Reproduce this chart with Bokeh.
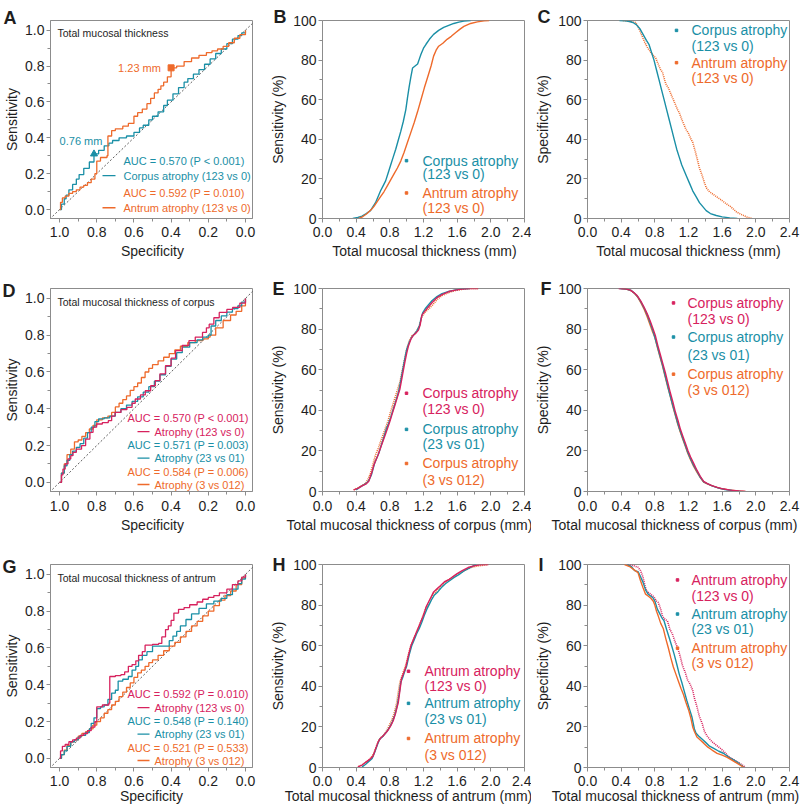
from bokeh.plotting import figure
from bokeh.models import Range1d, FixedTicker, PrintfTickFormatter, Label
from bokeh.layouts import row, column
from bokeh.embed import file_html
from bokeh.resources import INLINE

FONT = "Liberation Sans"
TEAL = "#1a8fa6"
ORANGE = "#ee6a2b"
CRIMSON = "#d7225e"
GRAY = "#8c8c8c"
INK = "#1e1e1e"

# ---------------- ticks ----------------
roc_ticks = [0.0, 0.2, 0.4, 0.6, 0.8, 1.0]
roc_minor = [0.1, 0.3, 0.5, 0.7, 0.9]
mm_ticks = [0.0, 0.4, 0.8, 1.2, 1.6, 2.0, 2.4]
mm_minor = [0.2, 0.6, 1.0, 1.4, 1.8, 2.2]
pct_ticks = [0, 20, 40, 60, 80, 100]
pct_minor = [10, 30, 50, 70, 90]
chance_spec = [1.1, -0.1]
chance_sens = [-0.1, 1.1]

# ---------------- A: ROC, total mucosal thickness ----------------
a_corpus_spec = [1.0, 0.99, 0.975, 0.965, 0.95, 0.93, 0.91, 0.895, 0.87, 0.84, 0.815, 0.79, 0.76, 0.735, 0.715, 0.68, 0.64, 0.6, 0.57, 0.55, 0.52, 0.5, 0.47, 0.44, 0.42, 0.39, 0.36, 0.33, 0.31, 0.28, 0.25, 0.22, 0.19, 0.16, 0.13, 0.1, 0.07, 0.04, 0.02, 0.0]
a_corpus_sens = [0.0, 0.03, 0.06, 0.08, 0.11, 0.14, 0.17, 0.195, 0.23, 0.265, 0.31, 0.33, 0.355, 0.37, 0.385, 0.40, 0.41, 0.43, 0.455, 0.47, 0.50, 0.52, 0.545, 0.58, 0.61, 0.645, 0.68, 0.71, 0.73, 0.755, 0.78, 0.81, 0.84, 0.87, 0.895, 0.925, 0.95, 0.97, 0.985, 1.0]
a_antrum_spec = [1.0, 0.995, 0.985, 0.97, 0.95, 0.93, 0.91, 0.89, 0.87, 0.85, 0.83, 0.81, 0.80, 0.78, 0.745, 0.74, 0.72, 0.70, 0.66, 0.63, 0.60, 0.58, 0.555, 0.53, 0.51, 0.49, 0.47, 0.455, 0.44, 0.42, 0.40, 0.37, 0.33, 0.29, 0.25, 0.21, 0.18, 0.15, 0.12, 0.09, 0.06, 0.03, 0.0]
a_antrum_sens = [0.0, 0.04, 0.065, 0.075, 0.09, 0.10, 0.11, 0.125, 0.135, 0.15, 0.17, 0.20, 0.27, 0.29, 0.30, 0.41, 0.44, 0.45, 0.465, 0.48, 0.52, 0.54, 0.56, 0.59, 0.62, 0.65, 0.67, 0.69, 0.71, 0.74, 0.79, 0.80, 0.825, 0.845, 0.86, 0.875, 0.885, 0.895, 0.91, 0.93, 0.955, 0.975, 1.0]
cut_corpus = dict(spec=[0.815], sens=[0.31], text="0.76 mm")
cut_antrum = dict(spec=[0.40], sens=[0.79], text="1.23 mm")
a_auc = ["AUC = 0.570 (P < 0.001)", "AUC = 0.592 (P = 0.010)"]
a_names = ["Corpus atrophy (123 vs 0)", "Antrum atrophy (123 vs 0)"]

# ---------------- B / C: total mucosal thickness ----------------
b_corpus_x = [0.36, 0.42, 0.47, 0.52, 0.57, 0.60, 0.63, 0.66, 0.69, 0.72, 0.75, 0.78, 0.81, 0.84, 0.87, 0.90, 0.93, 0.96, 0.99, 1.01, 1.03, 1.05, 1.07, 1.10, 1.13, 1.15, 1.17, 1.20, 1.23, 1.27, 1.32, 1.38, 1.44, 1.50, 1.56, 1.62, 1.68, 1.76]
b_corpus_y = [0, 0.5, 1.2, 2.5, 4, 6, 8, 11, 14, 16.5, 19, 23, 27, 31, 35, 39.5, 44, 49, 55, 61, 66.6, 71.5, 76, 77, 78, 80.5, 83, 86, 88, 90.5, 93, 95, 96.5, 97.5, 98.5, 99.2, 99.7, 100]
b_antrum_x = [0.43, 0.48, 0.53, 0.58, 0.61, 0.65, 0.69, 0.73, 0.77, 0.81, 0.85, 0.89, 0.93, 0.97, 1.01, 1.05, 1.09, 1.13, 1.17, 1.21, 1.25, 1.29, 1.32, 1.35, 1.38, 1.43, 1.48, 1.53, 1.58, 1.63, 1.68, 1.76, 1.84, 1.92, 1.98]
b_antrum_y = [0, 1, 2.5, 4.5, 6, 8.5, 11, 13.5, 16.5, 19.5, 22.5, 25.5, 29, 33.5, 38.5, 43.5, 48.5, 54, 60, 66, 71.5, 77, 82, 85, 87, 88.5, 90.5, 92, 93.8, 95.5, 97, 98.5, 99.3, 99.8, 100]
c_corpus_x = [0.38, 0.45, 0.50, 0.54, 0.58, 0.62, 0.66, 0.70, 0.73, 0.76, 0.79, 0.82, 0.85, 0.88, 0.91, 0.94, 0.97, 1.00, 1.03, 1.06, 1.09, 1.12, 1.15, 1.18, 1.21, 1.25, 1.29, 1.33, 1.37, 1.41, 1.46, 1.53, 1.60, 1.69, 1.78]
c_corpus_y = [100, 99.8, 99.5, 99, 97.9, 96, 93, 90, 88, 84, 80, 75, 70, 65, 60, 55, 50, 45, 40, 35, 31, 27, 24, 21, 18, 14, 11, 8, 6, 4, 2.5, 1.5, 0.8, 0.3, 0]
c_antrum_x = [0.42, 0.50, 0.57, 0.60, 0.62, 0.65, 0.68, 0.71, 0.75, 0.79, 0.81, 0.84, 0.87, 0.89, 0.91, 0.93, 0.96, 0.99, 1.01, 1.04, 1.07, 1.09, 1.12, 1.15, 1.17, 1.20, 1.23, 1.25, 1.28, 1.31, 1.33, 1.36, 1.39, 1.41, 1.45, 1.50, 1.55, 1.60, 1.65, 1.70, 1.77, 1.83, 1.89, 1.96]
c_antrum_y = [100, 99.5, 99, 97, 95, 92, 89, 86.5, 84, 82, 81, 78, 75, 74, 71, 68, 66, 63, 61, 58, 55, 53.5, 50, 47, 45, 43, 40, 38.5, 34, 29, 25.5, 22, 18, 15.6, 13.5, 12, 10.5, 9, 7.4, 6, 3.3, 2, 0.8, 0]

# ---------------- D: ROC, corpus thickness ----------------
d_123_spec = [1.0, 0.99, 0.982, 0.97, 0.955, 0.94, 0.928, 0.91, 0.882, 0.86, 0.837, 0.82, 0.801, 0.77, 0.738, 0.72, 0.702, 0.67, 0.638, 0.61, 0.593, 0.565, 0.539, 0.51, 0.485, 0.46, 0.43, 0.40, 0.376, 0.34, 0.304, 0.27, 0.231, 0.21, 0.195, 0.17, 0.141, 0.10, 0.069, 0.03, 0.0]
d_123_sens = [0.0, 0.04, 0.072, 0.10, 0.127, 0.145, 0.163, 0.18, 0.20, 0.235, 0.272, 0.30, 0.317, 0.325, 0.335, 0.36, 0.38, 0.395, 0.408, 0.43, 0.453, 0.475, 0.498, 0.525, 0.553, 0.59, 0.634, 0.675, 0.716, 0.745, 0.77, 0.79, 0.815, 0.84, 0.86, 0.895, 0.924, 0.94, 0.951, 0.975, 1.0]
d_23_spec = [1.0, 0.99, 0.975, 0.96, 0.945, 0.93, 0.91, 0.89, 0.87, 0.85, 0.83, 0.81, 0.79, 0.76, 0.73, 0.70, 0.67, 0.64, 0.61, 0.58, 0.55, 0.52, 0.49, 0.46, 0.43, 0.40, 0.37, 0.34, 0.30, 0.26, 0.23, 0.20, 0.185, 0.16, 0.13, 0.10, 0.07, 0.04, 0.02, 0.0]
d_23_sens = [0.0, 0.05, 0.09, 0.12, 0.15, 0.17, 0.19, 0.21, 0.24, 0.27, 0.30, 0.33, 0.345, 0.35, 0.36, 0.38, 0.40, 0.42, 0.44, 0.465, 0.49, 0.52, 0.55, 0.585, 0.63, 0.67, 0.705, 0.735, 0.76, 0.775, 0.79, 0.80, 0.85, 0.88, 0.905, 0.925, 0.945, 0.96, 0.98, 1.0]
d_3_spec = [1.0, 0.99, 0.975, 0.96, 0.94, 0.92, 0.90, 0.88, 0.86, 0.84, 0.82, 0.80, 0.77, 0.74, 0.72, 0.70, 0.68, 0.66, 0.64, 0.62, 0.60, 0.58, 0.56, 0.54, 0.52, 0.50, 0.47, 0.44, 0.41, 0.38, 0.35, 0.31, 0.27, 0.23, 0.20, 0.19, 0.16, 0.12, 0.08, 0.05, 0.02, 0.0]
d_3_sens = [0.0, 0.05, 0.10, 0.15, 0.18, 0.22, 0.23, 0.25, 0.27, 0.29, 0.31, 0.34, 0.35, 0.36, 0.38, 0.41, 0.43, 0.45, 0.47, 0.50, 0.52, 0.54, 0.57, 0.60, 0.62, 0.64, 0.66, 0.68, 0.70, 0.72, 0.74, 0.76, 0.77, 0.78, 0.79, 0.80, 0.84, 0.88, 0.91, 0.93, 0.96, 1.0]
d_auc = ["AUC = 0.570 (P < 0.001)", "AUC = 0.571 (P = 0.003)", "AUC = 0.584 (P = 0.006)"]
d_names = ["Atrophy (123 vs 0)", "Atrophy (23 vs 01)", "Atrophy (3 vs 012)"]

# ---------------- E / F: corpus thickness ----------------
e_123_x = [0.37, 0.42, 0.47, 0.52, 0.55, 0.57, 0.59, 0.61, 0.63, 0.66, 0.69, 0.72, 0.75, 0.78, 0.80, 0.83, 0.86, 0.89, 0.92, 0.94, 0.96, 0.98, 1.00, 1.02, 1.05, 1.08, 1.11, 1.14, 1.16, 1.18, 1.21, 1.25, 1.30, 1.36, 1.42, 1.50, 1.58, 1.66, 1.75, 1.85]
e_123_y = [0.8, 1.5, 2.8, 3.8, 5, 7.5, 10, 13, 15, 18, 21.5, 25, 28.5, 32, 34.5, 38.5, 42.5, 46.5, 50.5, 55, 59.5, 64, 68, 71.5, 75, 77, 78, 79.5, 82, 86.8, 88.5, 90.5, 93, 95.5, 97, 98.5, 99.2, 99.7, 100, 100]
e_23_x = [0.40, 0.44, 0.48, 0.52, 0.55, 0.58, 0.60, 0.62, 0.64, 0.67, 0.70, 0.73, 0.76, 0.78, 0.81, 0.84, 0.87, 0.90, 0.92, 0.94, 0.96, 0.98, 1.00, 1.03, 1.06, 1.09, 1.12, 1.15, 1.17, 1.19, 1.22, 1.26, 1.30, 1.36, 1.42, 1.50, 1.58, 1.66, 1.75]
e_23_y = [0.8, 2, 3, 4, 5.5, 8, 11, 14, 16, 19, 23, 27, 31, 33, 36.5, 40.5, 44.5, 48.5, 52.5, 57, 61.5, 66, 70, 73.5, 76, 77.5, 79, 81.5, 85, 88, 90, 92, 94, 96, 97.5, 98.5, 99.3, 99.8, 100]
e_3_x = [0.37, 0.42, 0.47, 0.51, 0.54, 0.57, 0.59, 0.61, 0.63, 0.66, 0.69, 0.72, 0.75, 0.78, 0.80, 0.83, 0.86, 0.89, 0.92, 0.94, 0.96, 0.98, 1.00, 1.03, 1.06, 1.09, 1.12, 1.15, 1.18, 1.21, 1.25, 1.30, 1.36, 1.42, 1.50, 1.58, 1.66, 1.75, 1.85]
e_3_y = [0.8, 1.8, 3, 4, 6, 9, 12, 15, 18, 21, 24.5, 28, 31.5, 35, 38, 42, 46, 50, 54, 58, 62, 66, 70, 74, 76.5, 77.5, 79, 81.5, 86, 88, 89.5, 91.5, 94.5, 96.5, 98, 99, 99.6, 100, 100]
f_123_x = [0.37, 0.45, 0.51, 0.55, 0.59, 0.63, 0.67, 0.71, 0.745, 0.775, 0.805, 0.835, 0.865, 0.895, 0.925, 0.955, 0.985, 1.015, 1.045, 1.075, 1.105, 1.135, 1.165, 1.195, 1.225, 1.26, 1.30, 1.34, 1.38, 1.42, 1.47, 1.54, 1.62, 1.70, 1.80, 1.88]
f_123_y = [100, 99.8, 99.2, 98, 96.5, 94, 91, 87.5, 84, 80.5, 77, 72, 67.5, 63, 58.5, 53.5, 48.5, 44, 39, 35, 30.5, 27, 23.5, 20, 17, 14, 10.5, 7.5, 5, 4, 3, 2, 1.2, 0.7, 0.3, 0]
f_23_x = [0.38, 0.46, 0.52, 0.56, 0.60, 0.64, 0.68, 0.715, 0.745, 0.775, 0.80, 0.83, 0.86, 0.89, 0.92, 0.95, 0.98, 1.01, 1.04, 1.07, 1.10, 1.13, 1.16, 1.19, 1.22, 1.26, 1.30, 1.34, 1.38, 1.43, 1.48, 1.55, 1.63, 1.72, 1.82]
f_23_y = [100, 99.7, 99, 97.6, 95.8, 93, 89.8, 86.5, 83, 79.5, 76, 71.5, 67, 62.5, 57.5, 52.5, 47.5, 43, 38.5, 34, 30, 26.5, 23, 19.5, 16.5, 13, 10, 7, 4.8, 3.8, 2.8, 1.8, 1, 0.5, 0]
f_3_x = [0.40, 0.47, 0.52, 0.56, 0.60, 0.64, 0.675, 0.71, 0.74, 0.77, 0.80, 0.83, 0.86, 0.89, 0.92, 0.95, 0.98, 1.01, 1.04, 1.07, 1.10, 1.13, 1.16, 1.19, 1.22, 1.26, 1.30, 1.34, 1.38, 1.43, 1.50, 1.58, 1.68, 1.78, 1.87]
f_3_y = [100, 99.6, 98.9, 97.5, 95.5, 92.5, 89.5, 86, 82.5, 79, 76, 71, 66.5, 62, 57, 52, 47.5, 42.5, 38, 33.5, 29.5, 26, 22.5, 19, 16, 12.5, 9.5, 6.8, 4.6, 3.6, 2.5, 1.5, 0.8, 0.3, 0]

# ---------------- G: ROC, antrum thickness ----------------
g_123_spec = [1.0, 0.995, 0.985, 0.97, 0.95, 0.93, 0.91, 0.89, 0.87, 0.85, 0.83, 0.81, 0.80, 0.77, 0.735, 0.73, 0.70, 0.67, 0.65, 0.63, 0.61, 0.59, 0.575, 0.555, 0.54, 0.50, 0.467, 0.45, 0.43, 0.415, 0.40, 0.385, 0.36, 0.33, 0.30, 0.26, 0.23, 0.20, 0.17, 0.14, 0.10, 0.07, 0.04, 0.02, 0.0]
g_123_sens = [0.0, 0.04, 0.065, 0.075, 0.09, 0.10, 0.11, 0.125, 0.135, 0.15, 0.17, 0.20, 0.28, 0.29, 0.30, 0.445, 0.45, 0.455, 0.47, 0.50, 0.51, 0.53, 0.56, 0.58, 0.615, 0.62, 0.625, 0.66, 0.70, 0.72, 0.75, 0.79, 0.81, 0.82, 0.835, 0.85, 0.865, 0.875, 0.885, 0.90, 0.92, 0.945, 0.965, 0.985, 1.0]
g_23_spec = [1.0, 0.99, 0.975, 0.96, 0.94, 0.92, 0.90, 0.885, 0.86, 0.84, 0.83, 0.815, 0.80, 0.78, 0.76, 0.74, 0.72, 0.70, 0.685, 0.66, 0.63, 0.61, 0.59, 0.575, 0.555, 0.53, 0.50, 0.43, 0.41, 0.39, 0.37, 0.35, 0.32, 0.29, 0.25, 0.21, 0.17, 0.13, 0.10, 0.07, 0.04, 0.02, 0.0]
g_23_sens = [0.0, 0.02, 0.04, 0.065, 0.09, 0.10, 0.115, 0.125, 0.14, 0.16, 0.19, 0.22, 0.27, 0.28, 0.29, 0.32, 0.355, 0.37, 0.42, 0.43, 0.445, 0.48, 0.50, 0.535, 0.56, 0.58, 0.61, 0.61, 0.64, 0.665, 0.69, 0.72, 0.755, 0.785, 0.815, 0.84, 0.855, 0.87, 0.89, 0.92, 0.95, 0.975, 1.0]
g_3_spec = [1.0, 0.99, 0.975, 0.96, 0.94, 0.92, 0.90, 0.88, 0.86, 0.84, 0.82, 0.80, 0.78, 0.76, 0.74, 0.72, 0.70, 0.68, 0.66, 0.64, 0.62, 0.60, 0.58, 0.56, 0.54, 0.52, 0.50, 0.47, 0.44, 0.41, 0.38, 0.35, 0.32, 0.29, 0.26, 0.23, 0.20, 0.17, 0.14, 0.11, 0.08, 0.05, 0.02, 0.0]
g_3_sens = [0.0, 0.02, 0.045, 0.07, 0.09, 0.10, 0.12, 0.135, 0.145, 0.16, 0.18, 0.20, 0.22, 0.245, 0.265, 0.29, 0.31, 0.335, 0.36, 0.385, 0.41, 0.44, 0.465, 0.48, 0.50, 0.52, 0.535, 0.56, 0.585, 0.61, 0.63, 0.66, 0.69, 0.72, 0.745, 0.775, 0.80, 0.83, 0.86, 0.885, 0.91, 0.945, 0.98, 1.0]
g_auc = ["AUC = 0.592 (P = 0.010)", "AUC = 0.548 (P = 0.140)", "AUC = 0.521 (P = 0.533)"]
g_names = ["Atrophy (123 vs 0)", "Atrophy (23 vs 01)", "Atrophy (3 vs 012)"]

# ---------------- H / I: antrum thickness ----------------
h_123_x = [0.42, 0.47, 0.52, 0.56, 0.60, 0.63, 0.66, 0.69, 0.72, 0.75, 0.78, 0.81, 0.84, 0.87, 0.90, 0.92, 0.94, 0.96, 0.99, 1.02, 1.05, 1.08, 1.11, 1.14, 1.17, 1.20, 1.23, 1.26, 1.29, 1.32, 1.36, 1.40, 1.45, 1.50, 1.55, 1.60, 1.66, 1.73, 1.80, 1.87, 1.97]
h_123_y = [0.3, 1.2, 2.8, 4, 5.5, 9, 12.5, 14.5, 15.5, 17, 18.5, 20.5, 23, 27, 32, 38, 44, 46, 49.5, 55, 60, 63, 66, 69, 72, 75, 79, 81.5, 84, 86.5, 88, 89.5, 91.5, 92.5, 94, 95.5, 97, 98.5, 99.3, 99.8, 100]
h_23_x = [0.47, 0.51, 0.55, 0.59, 0.62, 0.65, 0.68, 0.71, 0.74, 0.77, 0.80, 0.83, 0.86, 0.89, 0.91, 0.93, 0.95, 0.97, 1.00, 1.03, 1.06, 1.09, 1.12, 1.15, 1.18, 1.21, 1.24, 1.27, 1.30, 1.33, 1.37, 1.41, 1.46, 1.51, 1.56, 1.62, 1.68, 1.75, 1.82]
h_23_y = [0.3, 1.5, 3, 4.5, 7.5, 11, 14, 15, 16.5, 18, 20, 22.5, 26, 31, 36, 42, 44, 46.5, 50, 55.5, 60, 63, 66, 68.5, 71.5, 75, 78, 80.5, 83, 85, 86.5, 88.5, 90.5, 92, 93.5, 95, 96.8, 98.3, 100]
h_3_x = [0.43, 0.48, 0.53, 0.57, 0.61, 0.64, 0.67, 0.70, 0.73, 0.76, 0.79, 0.82, 0.85, 0.88, 0.90, 0.92, 0.94, 0.96, 0.99, 1.02, 1.05, 1.08, 1.11, 1.14, 1.17, 1.20, 1.23, 1.26, 1.29, 1.32, 1.36, 1.40, 1.45, 1.50, 1.56, 1.62, 1.69, 1.76, 1.85, 1.97]
h_3_y = [0.5, 1.5, 3, 4.5, 7, 10.5, 13.5, 15, 16, 18, 20.5, 23, 26.5, 31.5, 37, 42, 44.5, 47, 50.5, 55.5, 60, 63, 66, 69, 72, 75.5, 78.5, 81, 83.5, 85.5, 87, 89, 91, 92.5, 94, 95.5, 97, 98.5, 99.3, 100]
i_123_x = [0.48, 0.54, 0.60, 0.63, 0.66, 0.68, 0.70, 0.73, 0.76, 0.79, 0.82, 0.84, 0.87, 0.89, 0.92, 0.95, 0.98, 1.01, 1.04, 1.07, 1.10, 1.13, 1.16, 1.19, 1.22, 1.25, 1.27, 1.30, 1.33, 1.36, 1.39, 1.43, 1.48, 1.53, 1.58, 1.63, 1.68, 1.73, 1.78, 1.83, 1.88]
i_123_y = [100, 99.5, 98.7, 97, 93.7, 90, 87, 86, 85, 84, 82, 81.3, 78, 74.7, 73, 72.2, 68, 65.6, 62, 59, 55, 50, 47, 43, 41, 38, 34.2, 30, 25, 22, 17.7, 15, 12.7, 11, 9.4, 7.5, 5.3, 4, 2.8, 1.5, 0]
i_23_x = [0.47, 0.52, 0.56, 0.60, 0.63, 0.66, 0.69, 0.72, 0.75, 0.78, 0.80, 0.83, 0.85, 0.88, 0.91, 0.94, 0.97, 1.00, 1.03, 1.06, 1.09, 1.12, 1.15, 1.18, 1.21, 1.24, 1.27, 1.29, 1.32, 1.36, 1.40, 1.45, 1.50, 1.56, 1.62, 1.68, 1.74, 1.80, 1.86]
i_23_y = [100, 99, 97, 96.5, 94, 91.2, 87.5, 85.4, 84.5, 83.5, 82, 78, 76.4, 74, 72.2, 68, 64, 60, 55.7, 51, 46, 42, 37.5, 33, 29, 25, 19, 16.9, 15.5, 14, 12.5, 10.5, 9.4, 8, 6.9, 5, 3.6, 2, 0]
i_3_x = [0.44, 0.50, 0.55, 0.60, 0.63, 0.66, 0.69, 0.72, 0.75, 0.78, 0.80, 0.82, 0.84, 0.87, 0.90, 0.93, 0.96, 0.99, 1.02, 1.05, 1.08, 1.11, 1.14, 1.17, 1.20, 1.23, 1.25, 1.27, 1.30, 1.34, 1.38, 1.43, 1.48, 1.54, 1.60, 1.66, 1.72, 1.78, 1.86]
i_3_y = [100, 99, 97.5, 96, 92, 88.5, 85.4, 84.5, 83.5, 82, 80, 77, 74.7, 71, 68.5, 63.5, 59, 54, 49.5, 46, 42.5, 39, 36, 32, 28.5, 24, 20, 17.7, 15, 13.5, 12, 10, 8.6, 7, 6.1, 5, 3.5, 2, 0]

# ---------------- layout ----------------
FW = 202
COLS = [dict(w=266, ml=50, mr=14, yls=2), dict(w=265, ml=56, mr=7, yls=4), dict(w=269, ml=56, mr=11, yls=4)]
ROWS = [dict(h=266, mt=15, mb=48, xs=4), dict(h=276, mt=22, mb=51, xs=5), dict(h=265, mt=22, mb=40, xs=4)]


def make_fig(ci, ri, xr, yr):
    c, r = COLS[ci], ROWS[ri]
    p = figure(width=c["w"], height=r["h"], x_range=xr, y_range=yr,
               min_border_left=c["ml"], min_border_right=c["mr"],
               min_border_top=r["mt"], min_border_bottom=r["mb"],
               output_backend="svg", toolbar_location=None)
    p.outline_line_color = GRAY
    p.outline_line_width = 1
    p.xgrid.visible = False
    p.ygrid.visible = False
    p.background_fill_color = "white"
    p.border_fill_color = "white"
    return p


def style_axes(p, ci, ri, xt, xm, yt, ym, xfmt, yfmt, ylabel):
    p.xaxis.ticker = FixedTicker(ticks=xt, minor_ticks=xm)
    p.yaxis.ticker = FixedTicker(ticks=yt, minor_ticks=ym)
    if xfmt:
        p.xaxis.formatter = PrintfTickFormatter(format=xfmt)
    if yfmt:
        p.yaxis.formatter = PrintfTickFormatter(format=yfmt)
    for ax in list(p.xaxis) + list(p.yaxis):
        ax.axis_line_color = GRAY
        ax.major_tick_line_color = GRAY
        ax.minor_tick_line_color = GRAY
        ax.major_tick_out = 4
        ax.major_tick_in = 0
        ax.minor_tick_out = 3
        ax.minor_tick_in = 0
        ax.major_label_text_font = FONT
        ax.major_label_text_font_size = "14px"
        ax.major_label_text_color = INK
        ax.major_label_standoff = 2
        ax.axis_label_text_font = FONT
        ax.axis_label_text_font_size = "14px"
        ax.axis_label_text_font_style = "normal"
        ax.axis_label_text_color = INK
    p.xaxis.major_label_standoff = ROWS[ri]["xs"]
    p.yaxis.axis_label = ylabel
    p.yaxis.axis_label_standoff = COLS[ci]["yls"]


def mklabel(x, y, text, color=INK, size="14px", style="normal", align="left", baseline="middle",
            xu="screen", yu="data"):
    return Label(x=x, y=y, x_units=xu, y_units=yu, text=text, text_color=color,
                 text_font=FONT, text_font_size=size, text_font_style=style,
                 text_align=align, text_baseline=baseline)


def sx(p, s):
    r = p.x_range
    return r.start + s / FW * (r.end - r.start)


def letter(p, text, dx, dy):
    p.add_layout(mklabel(dx, dy, text, size="18px", style="bold", baseline="alphabetic", yu="screen"), "above")


def xlabel(p, text, cx, dy):
    p.add_layout(mklabel(cx, dy, text, align="center", yu="screen"), "below")


def roc_panel(ci, ri, title, draw, legend_curves, auc, names, lg):
    p = make_fig(ci, ri, Range1d(1.049, -0.038), Range1d(-0.05, 1.054))
    style_axes(p, ci, ri, roc_ticks, roc_minor, roc_ticks, roc_minor, "%.1f", "%.1f", "Sensitivity")
    p.line(chance_spec, chance_sens, line_color="#333333", line_width=0.8, line_dash="2 2")
    for spec, sens, col in draw:
        p.step(spec, sens, mode="after", line_color=col, line_width=1.3)
    p.add_layout(mklabel(7, 0.983, title, size="10.5px"))
    ys = lg["ys"]
    for k, (a, n, col) in enumerate(zip(auc, names, legend_curves)):
        p.add_layout(mklabel(lg["ax"], ys[2 * k], a, color=col, size="11px"))
        p.segment(x0=[sx(p, lg["s0"])], y0=[ys[2 * k + 1]], x1=[sx(p, lg["s1"])],
                  y1=[ys[2 * k + 1]], line_color=col, line_width=1.3)
        p.add_layout(mklabel(lg["tx"], ys[2 * k + 1], n, color=col, size="11px"))
    return p


def cdf_panel(ci, ri, curves, ylabel, names, lg):
    p = make_fig(ci, ri, Range1d(0, 2.4), Range1d(0, 100))
    style_axes(p, ci, ri, mm_ticks, mm_minor, pct_ticks, pct_minor, "%.1f", None, ylabel)
    for x, y, col, dash in curves:
        p.line(x, y, line_color=col, line_width=1.4 if dash is None else 1.6,
               line_dash=dash if dash else "solid")
    ys = lg["ys"]
    for k, (n1, n2) in enumerate(names):
        col = lg["cols"][k]
        p.scatter([sx(p, lg["dx"])], [ys[2 * k]], size=2.5, color=col, marker="square")
        p.add_layout(mklabel(lg["tx"], ys[2 * k], n1, color=col))
        p.add_layout(mklabel(lg["tx"], ys[2 * k + 1], n2, color=col))
    return p


XL_Y = [5, 5, 9]  # x-label offset inside its below-panel slot, per row

# ---- row 1
pA = roc_panel(0, 0, "Total mucosal thickness",
               [(a_corpus_spec, a_corpus_sens, TEAL), (a_antrum_spec, a_antrum_sens, ORANGE)],
               [TEAL, ORANGE], a_auc, a_names,
               dict(ax=73, s0=52, s1=65, tx=73, ys=[0.271, 0.189, 0.091, 0.010]))
pA.scatter(cut_corpus["spec"], cut_corpus["sens"], marker="triangle", size=7, color=TEAL)
pA.scatter(cut_antrum["spec"], cut_antrum["sens"], marker="square", size=6, color=ORANGE)
pA.add_layout(Label(x=1.0, y=cut_corpus["sens"][0] + 0.07, text=cut_corpus["text"], text_color=TEAL,
                    text_font=FONT, text_font_size="11px", text_baseline="middle"))
pA.add_layout(Label(x=cut_antrum["spec"][0] + 0.055, y=cut_antrum["sens"][0], text=cut_antrum["text"],
                    text_color=ORANGE, text_font=FONT, text_font_size="11px", text_baseline="middle",
                    text_align="right"))
letter(pA, "A", -47, 3)
xlabel(pA, "Specificity", 102, XL_Y[0])

pB = cdf_panel(1, 0, [(b_corpus_x, b_corpus_y, TEAL, None), (b_antrum_x, b_antrum_y, ORANGE, None)],
               "Sensitivity (%)", [("Corpus atrophy", "(123 vs 0)"), ("Antrum atrophy", "(123 vs 0)")],
               dict(dx=84, tx=100, ys=[29.2, 22.3, 12.9, 5.4], cols=[TEAL, ORANGE]))
letter(pB, "B", -49, 4)
xlabel(pB, "Total mucosal thickness (mm)", 102, XL_Y[0])

pC = cdf_panel(2, 0, [(c_antrum_x, c_antrum_y, ORANGE, "1 1"), (c_corpus_x, c_corpus_y, TEAL, None)],
               "Specificity (%)", [("Corpus atrophy", "(123 vs 0)"), ("Antrum atrophy", "(123 vs 0)")],
               dict(dx=89, tx=104, ys=[95.0, 87.1, 78.7, 70.8], cols=[TEAL, ORANGE]))
letter(pC, "C", -50, 4)
xlabel(pC, "Total mucosal thickness (mm)", 101, XL_Y[0])

# ---- row 2
lg_roc = dict(ax=77, s0=87, s1=99, tx=104, ys=[0.352, 0.276, 0.203, 0.132, 0.056, -0.012])
pD = roc_panel(0, 1, "Total mucosal thickness of corpus",
               [(d_3_spec, d_3_sens, ORANGE), (d_23_spec, d_23_sens, TEAL), (d_123_spec, d_123_sens, CRIMSON)],
               [CRIMSON, TEAL, ORANGE], d_auc, d_names, lg_roc)
letter(pD, "D", -48, -2)
xlabel(pD, "Specificity", 102, XL_Y[1])

names3_c = [("Corpus atrophy", "(123 vs 0)"), ("Corpus atrophy", "(23 vs 01)"), ("Corpus atrophy", "(3 vs 012)")]
names3_a = [("Antrum atrophy", "(123 vs 0)"), ("Antrum atrophy", "(23 vs 01)"), ("Antrum atrophy", "(3 vs 012)")]
cols3 = [CRIMSON, TEAL, ORANGE]

pE = cdf_panel(1, 1, [(e_3_x, e_3_y, ORANGE, "1 1"), (e_23_x, e_23_y, TEAL, None), (e_123_x, e_123_y, CRIMSON, None)],
               "Sensitivity (%)", names3_c, dict(dx=84, tx=100, ys=[48.4, 40.5, 30.6, 23.2, 13.8, 5.9], cols=cols3))
letter(pE, "E", -50, 0)
xlabel(pE, "Total mucosal thickness of corpus (mm)", 87, XL_Y[1])

pF = cdf_panel(2, 1, [(f_3_x, f_3_y, ORANGE, None), (f_23_x, f_23_y, TEAL, None), (f_123_x, f_123_y, CRIMSON, None)],
               "Specificity (%)", names3_c, dict(dx=86, tx=100, ys=[92.9, 85.0, 76.1, 67.2, 57.8, 49.9], cols=cols3))
letter(pF, "F", -47, 0)
xlabel(pF, "Total mucosal thickness of corpus (mm)", 87, XL_Y[1])

# ---- row 3
pG = roc_panel(0, 2, "Total mucosal thickness of antrum",
               [(g_3_spec, g_3_sens, ORANGE), (g_23_spec, g_23_sens, TEAL), (g_123_spec, g_123_sens, CRIMSON)],
               [CRIMSON, TEAL, ORANGE], g_auc, g_names, lg_roc)
letter(pG, "G", -48, -2)
xlabel(pG, "Specificity", 101, XL_Y[2])

pH = cdf_panel(1, 2, [(h_3_x, h_3_y, ORANGE, "1 1"), (h_23_x, h_23_y, TEAL, None), (h_123_x, h_123_y, CRIMSON, None)],
               "Sensitivity (%)", names3_a, dict(dx=86, tx=102, ys=[47.4, 40.0, 31.6, 23.7, 14.3, 6.4], cols=cols3))
letter(pH, "H", -50, 0)
xlabel(pH, "Total mucosal thickness of antrum (mm)", 86, XL_Y[2])

pI = cdf_panel(2, 2, [(i_123_x, i_123_y, CRIMSON, "1 1"), (i_23_x, i_23_y, TEAL, None), (i_3_x, i_3_y, ORANGE, None)],
               "Specificity (%)", names3_a, dict(dx=90, tx=104, ys=[92.4, 84.5, 75.6, 68.2, 58.8, 51.4], cols=cols3))
letter(pI, "I", -49, 0)
xlabel(pI, "Total mucosal thickness of antrum (mm)", 88, XL_Y[2])

layout = column(row(pA, pB, pC), row(pD, pE, pF), row(pG, pH, pI))
open("out.html", "w").write(file_html(layout, INLINE))
